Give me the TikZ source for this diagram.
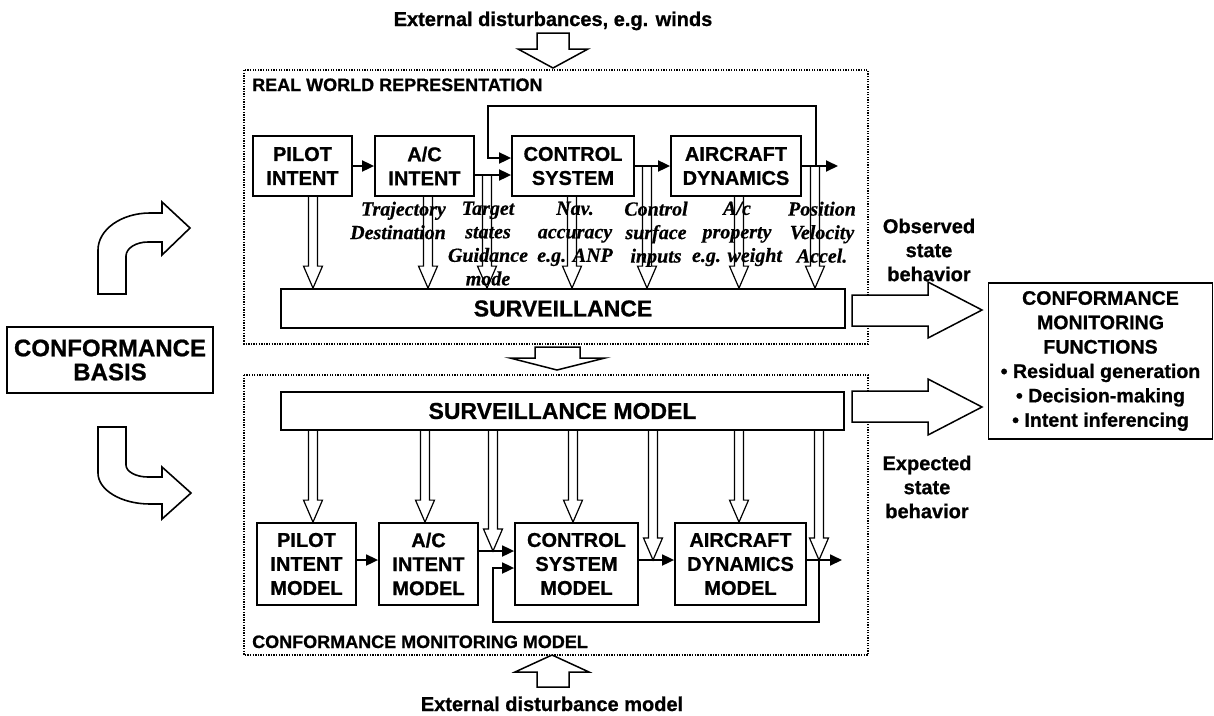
\documentclass[tikz,border=0pt]{standalone}
\usepackage{fontspec}
\setmainfont{Liberation Sans}[BoldFeatures={FakeBold=0.8}]
\newfontfamily\tnr{Liberation Serif}[BoldItalicFeatures={FakeBold=0.6}]
\usetikzlibrary{arrows.meta,calc}

\tikzset{
  every node/.style={inner sep=0pt},
  blk/.style={draw, line width=1.8pt, align=center, font=\fontsize{20}{24}\selectfont\bfseries},
  conn/.style={line width=1.8pt},
  arr/.style={conn, -{Triangle[length=12pt,width=11pt]}},
  hollow/.style={line width=1.2pt, line join=miter},
  bighollow/.style={line width=1.5pt, fill=white, line join=miter},
  frame/.style={line width=1.3pt, dash pattern=on 1.3pt off 1.3pt},
  lbl/.style={font=\fontsize{20}{23.5}\selectfont\tnr\bfseries\itshape, align=center, anchor=north},
  txt/.style={font=\fontsize{20}{24}\selectfont\bfseries, align=center},
  title/.style={font=\fontsize{18}{22}\selectfont\bfseries, anchor=base west},
}
% #1: x reference point, #2: start (y), #3: tip (y)
\newcommand\hollowdown[3]{%
  \draw[hollow] let \p1=(#1), \p2=(#2), \p3=(#3) in
    (\x1-4.5pt,\y2) -- (\x1-4.5pt,\y3+22pt) -- (\x1-9.5pt,\y3+22pt) --
    (\x1,\y3) -- (\x1+9.5pt,\y3+22pt) -- (\x1+4.5pt,\y3+22pt) -- (\x1+4.5pt,\y2);}

\begin{document}
\begin{tikzpicture}[x=1pt,y=-1pt]
\useasboundingbox (0,0) rectangle (1214,715);
\fill[white] (0,0) rectangle (1214,715);

% frames
\draw[frame] (244,70) rectangle (868,344);
\draw[frame] (244,375) rectangle (868,655);
\node[title] (rwr) at (252,91) {REAL WORLD REPRESENTATION};
\node[title] (cmm) at (252,648) {CONFORMANCE MONITORING MODEL};

% top / bottom texts and arrows
\node[font=\fontsize{20}{24}\selectfont\bfseries, anchor=base] (ext) at (553,26) {External disturbances, e.g. winds};
\draw[bighollow] (537,33) -- (569,33) -- (569,49) -- (588,49) -- (553,68) -- (518,49) -- (537,49) -- cycle;
\draw[bighollow] (535,347) -- (580,347) -- (580,358) -- (605,358) -- (557,370) -- (510,358) -- (535,358) -- cycle;
\draw[bighollow] (537,687) -- (569,687) -- (569,672) -- (589,672) -- (552,655) -- (515,672) -- (537,672) -- cycle;
\node[font=\fontsize{20}{24}\selectfont\bfseries, anchor=base] (extm) at (552,711) {External disturbance model};

% ---------- real world ----------
\node[blk, minimum width=99pt, minimum height=60pt] (pilot) at (302.5,166) {PILOT\\INTENT};
\node[blk, minimum width=99pt, minimum height=60pt] (aci) at (424.5,166) {A/C\\INTENT};
\node[blk, minimum width=122pt, minimum height=60pt] (ctrl) at (573,166) {CONTROL\\SYSTEM};
\node[blk, minimum width=130pt, minimum height=60pt] (acd) at (736,166) {AIRCRAFT\\DYNAMICS};
\node[blk, minimum width=564pt, minimum height=39pt, font=\fontsize{23}{27}\selectfont\bfseries] (surv) at (563,308.5) {SURVEILLANCE};

\draw[arr] (pilot.east) -- (aci.west);
\coordinate (aciout) at ([yshift=-9pt]aci.east);
\draw[arr] (aciout) -- (aciout -| ctrl.west);
\draw[arr] (ctrl.east) -- (acd.west);
\coordinate (outU) at (838,166);
\draw[arr] (acd.east) -- (outU);
\coordinate (fbU) at (816,166);
\coordinate (fbUa) at (816,106);
\coordinate (fbUb) at (488,106);
\coordinate (fbUc) at (488,158);
\draw[arr] (fbU) -- (fbUa) -- (fbUb) -- (fbUc) -- (fbUc -| ctrl.west);

\coordinate (jU1) at (487,175);
\coordinate (jU2) at (647,166);
\coordinate (jU3) at (815,166);
\hollowdown{[xshift=10.5pt]pilot.south}{pilot.south}{surv.north}
\hollowdown{[xshift=3.5pt]aci.south}{aci.south}{surv.north}
\hollowdown{jU1}{jU1}{surv.north}
\hollowdown{[xshift=-1pt]ctrl.south}{ctrl.south}{surv.north}
\hollowdown{jU2}{jU2}{surv.north}
\hollowdown{[xshift=3pt]acd.south}{acd.south}{surv.north}
\hollowdown{jU3}{jU3}{surv.north}

\node[lbl, anchor=north east, align=right] (l1) at (446,201.5) {Trajectory\\Destination};
\node[lbl] (l2) at (488,201.5) {Target\\states\\Guidance\\mode};
\node[lbl] (l3) at (575,201.5) {Nav.\\accuracy\\e.g. ANP};
\node[lbl] (l4) at (656,201.5) {Control\\surface\\inputs};
\node[lbl] (l5) at (737,201.5) {A/c\\property\\e.g. weight};
\node[lbl] (l6) at (822,201.5) {Position\\Velocity\\Accel.};

% ---------- model ----------
\node[blk, minimum width=563pt, minimum height=38pt, font=\fontsize{23}{27}\selectfont\bfseries] (survm) at (562.5,411) {SURVEILLANCE MODEL};
\node[blk, minimum width=99pt, minimum height=82pt] (pilotm) at (306.5,564) {PILOT\\INTENT\\MODEL};
\node[blk, minimum width=99pt, minimum height=82pt] (acim) at (428.5,564) {A/C\\INTENT\\MODEL};
\node[blk, minimum width=123pt, minimum height=82pt] (ctrlm) at (576.5,564) {CONTROL\\SYSTEM\\MODEL};
\node[blk, minimum width=131pt, minimum height=82pt] (acdm) at (740.5,564) {AIRCRAFT\\DYNAMICS\\MODEL};

\draw[arr] ([yshift=4pt]pilotm.east) -- ([yshift=4pt]acim.west);
\coordinate (acimout) at ([yshift=13pt]acim.east);
\draw[arr] (acimout) -- (acimout -| ctrlm.west);
\draw[arr] ([yshift=4pt]ctrlm.east) -- ([yshift=4pt]acdm.west);
\coordinate (outL) at (842,560);
\draw[arr] ([yshift=4pt]acdm.east) -- (outL);
\coordinate (fbL) at (819,560);
\coordinate (fbLa) at (819,622);
\coordinate (fbLb) at (493,622);
\coordinate (fbLc) at (493,568);
\draw[arr] (fbL) -- (fbLa) -- (fbLb) -- (fbLc) -- (fbLc -| ctrlm.west);

\coordinate (jL1) at (493,551);
\coordinate (jL2) at (653,560);
\coordinate (jL3) at (819,560);
\hollowdown{[xshift=6.5pt]pilotm.north}{survm.south}{pilotm.north}
\hollowdown{[xshift=-3.5pt]acim.north}{survm.south}{acim.north}
\hollowdown{jL1}{survm.south}{jL1}
\hollowdown{[xshift=-3.5pt]ctrlm.north}{survm.south}{ctrlm.north}
\hollowdown{jL2}{survm.south}{jL2}
\hollowdown{[xshift=-1.5pt]acdm.north}{survm.south}{acdm.north}
\hollowdown{jL3}{survm.south}{jL3}

% ---------- right side ----------
\draw[bighollow] (852,295) -- (928,295) -- (928,282) -- (982,310) -- (928,338) -- (928,326) -- (852,326) -- cycle;
\draw[bighollow] (852,391) -- (928,391) -- (928,379) -- (982,407) -- (928,435) -- (928,422) -- (852,422) -- cycle;
\node[txt] (obs) at (929,250) {Observed\\state\\behavior};
\node[txt] (exp) at (927,487) {Expected\\state\\behavior};
\node[draw, line width=1.8pt, minimum width=224pt, minimum height=156pt, align=center,
      font=\fontsize{19.6}{24.4}\selectfont\bfseries] (cmf) at (1100.5,361)
  {CONFORMANCE\\MONITORING\\FUNCTIONS\\• Residual generation\\• Decision-making\\• Intent inferencing};

% ---------- left side ----------
\node[draw, line width=1.8pt, minimum width=206pt, minimum height=66pt, align=center,
      font=\fontsize{24}{24}\selectfont\bfseries] (basis) at (110,360) {CONFORMANCE\\BASIS};
\draw[line width=1.6pt, line join=miter] (98,294) -- (98,250) .. controls (98,229.6) and (121.3,213) .. (150,213)
  -- (162,213) -- (162,202) -- (190,228) -- (162,255) -- (162,242) -- (148,242)
  .. controls (135.9,242) and (126,248.3) .. (126,256) -- (126,294) -- cycle;
\draw[line width=1.6pt, line join=miter] (98,427) -- (98,473) .. controls (98,490.1) and (121.3,504) .. (150,504)
  -- (162,504) -- (162,519) -- (191,493) -- (162,467) -- (162,477) -- (148,477)
  .. controls (135.9,477) and (126,471.6) .. (126,465) -- (126,427) -- cycle;
\end{tikzpicture}
\end{document}
